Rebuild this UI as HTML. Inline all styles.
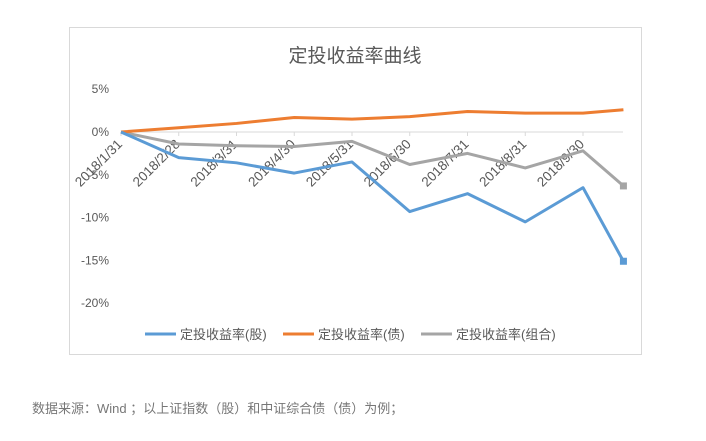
<!DOCTYPE html>
<html><head><meta charset="utf-8"><style>
body{margin:0;background:#fff;width:706px;height:436px;overflow:hidden;font-family:"Liberation Sans","Noto Sans CJK SC",sans-serif}
</style></head><body>
<svg width="706" height="436">
<rect x="69.5" y="27.5" width="572" height="327" fill="#fff" stroke="#d9d9d9"/>
<text x="355" y="62" text-anchor="middle" font-size="19" fill="#595959" font-family="Liberation Sans,Noto Sans CJK SC,sans-serif">定投收益率曲线</text>
<g id="yaxis"></g>
<g id="xaxis"></g>
<g id="series"></g>
<g font-size="13" fill="#595959" font-family="Liberation Sans,Noto Sans CJK SC,sans-serif">
<line x1="145" y1="334" x2="176" y2="334" stroke="#5b9bd5" stroke-width="3"/>
<text x="180" y="339">定投收益率(股)</text>
<line x1="283" y1="334" x2="314" y2="334" stroke="#ed7d31" stroke-width="3"/>
<text x="318" y="339">定投收益率(债)</text>
<line x1="421" y1="334" x2="452" y2="334" stroke="#a5a5a5" stroke-width="3"/>
<text x="456" y="339">定投收益率(组合)</text>
</g>
<text x="32" y="413" font-size="13" fill="#777" font-family="Liberation Sans,Noto Sans CJK SC,sans-serif">数据来源：Wind ；以上证指数（股）和中证综合债（债）为例；</text>
</svg>
<script>
const categories=["2018/1/31","2018/2/28","2018/3/31","2018/4/30","2018/5/31","2018/6/30","2018/7/31","2018/8/31","2018/9/30",""];
const catPos=[0,1,2,3,4,5,6,7,8,8.7];
const stock=[0,-3.0,-3.6,-4.8,-3.5,-9.3,-7.2,-10.5,-6.5,-15.1];
const bond=[0,0.5,1.0,1.7,1.5,1.8,2.4,2.2,2.2,2.6];
const mix=[0,-1.4,-1.6,-1.7,-1.1,-3.8,-2.5,-4.2,-2.2,-6.3];
const yTicks=[5,0,-5,-10,-15,-20];
const NS="http://www.w3.org/2000/svg";
const xs=p=>121+p*57.75;
const ys=v=>132-v*8.56;
function mk(t,a,parent){const e=document.createElementNS(NS,t);for(const k in a)e.setAttribute(k,a[k]);parent.appendChild(e);return e;}
const ya=document.getElementById('yaxis'),xa=document.getElementById('xaxis'),sg=document.getElementById('series');
yTicks.forEach(v=>{const t=mk('text',{x:109,y:ys(v)+4,'text-anchor':'end','font-size':12,fill:'#595959'},ya);t.textContent=v+'%';

});
const ax=mk('line',{x1:121,x2:623,y1:ys(0),y2:ys(0),stroke:'#d9d9d9','stroke-width':1},xa);


categories.forEach((c,i)=>{if(!c)return;const x=xs(catPos[i]);
const tk=mk('line',{x1:x,x2:x,y1:ys(0),y2:ys(0)+4,stroke:'#d9d9d9'},xa);


const ax0=x+2,ay0=ys(0)+13;
const t=mk('text',{x:ax0,y:ay0,'text-anchor':'end','font-size':13.5,fill:'#595959',transform:`rotate(-45 ${ax0} ${ay0})`},xa);t.textContent=c;

});
function line(vals,color,name,marker){const d=vals.map((v,i)=>(i?'L':'M')+xs(catPos[i])+','+ys(v)).join('');
const p=mk('path',{d:d,fill:'none',stroke:color,'stroke-width':3,'stroke-linejoin':'round'},sg);


if(!marker)return;
const n=vals.length-1;const m=mk('rect',{x:xs(catPos[n])-3.5,y:ys(vals[n])-3.5,width:7,height:7,fill:color},sg);

}
line(mix,'#a5a5a5','line-mix',true);
line(bond,'#ed7d31','line-bond',false);
line(stock,'#5b9bd5','line-stock',true);
</script>
</body></html>
